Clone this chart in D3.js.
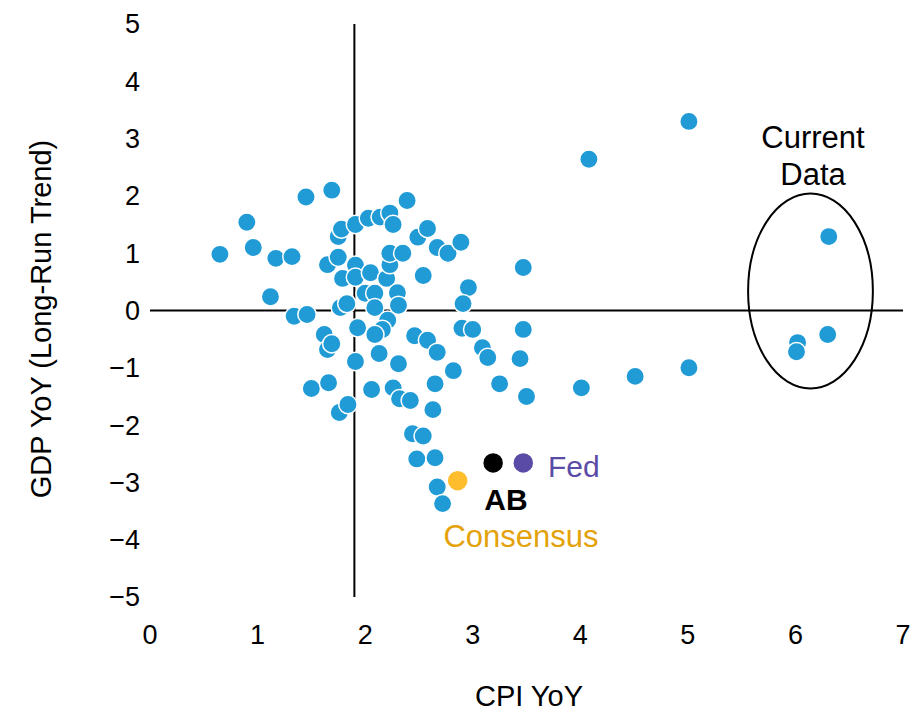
<!DOCTYPE html>
<html>
<head>
<meta charset="utf-8">
<script src="https://cdn.jsdelivr.net/npm/d3@7"></script>
<style>
  body { margin: 0; background: #fff; }
  svg text { font-family: "Liberation Sans", Arial, sans-serif; }
</style>
</head>
<body>
<svg id="chart" width="924" height="714"></svg>
<script>
// ---- data ----
const xTicks = [0, 1, 2, 3, 4, 5, 6, 7];
const yTicks = [5, 4, 3, 2, 1, 0, -1, -2, -3, -4, -5];
const xLabel = "CPI YoY";
const yLabel = "GDP YoY (Long-Run Trend)";

// historical observations: CPI YoY
const cpi = [0.65, 0.90, 0.96, 1.17, 1.32, 1.45, 1.69, 1.12, 1.34, 1.46,
  1.62, 1.65, 1.69, 1.50, 1.66, 1.76, 1.84, 1.65, 1.75, 1.78,
  1.75, 1.79, 1.77, 1.83, 1.91, 2.03, 2.14, 2.23, 2.26, 2.39,
  1.91, 1.91, 2.05, 2.20, 2.23, 2.23, 2.35, 2.54, 2.00, 2.09,
  2.30, 2.09, 2.31, 2.21, 2.16, 1.93, 2.09, 1.91, 2.13, 2.31,
  2.46, 2.58, 2.67, 2.82, 2.65, 2.49, 2.58, 2.67, 2.77, 2.89,
  2.96, 2.91, 2.90, 3.00, 3.47, 3.47, 3.09, 3.14, 3.44, 3.25,
  3.50, 2.06, 2.26, 2.32, 2.42, 2.63, 2.44, 2.54, 2.48, 2.65,
  2.67, 2.72, 4.01, 4.51, 5.01, 4.08, 5.01];
// historical observations: GDP YoY vs long-run trend
const gdp = [0.98, 1.54, 1.10, 0.91, 0.94, 1.98, 2.10, 0.24, -0.10, -0.07,
  -0.42, -0.68, -0.58, -1.36, -1.26, -1.78, -1.64, 0.80, 1.29, 1.42,
  0.93, 0.56, 0.05, 0.12, 1.50, 1.61, 1.63, 1.70, 1.50, 1.92,
  0.79, 0.58, 0.66, 0.56, 0.80, 1.00, 1.00, 0.61, 0.30, 0.30,
  0.31, 0.05, 0.09, -0.17, -0.33, -0.30, -0.42, -0.89, -0.75, -0.93,
  -0.44, -0.52, -0.73, -1.05, -1.28, 1.28, 1.43, 1.10, 1.00, 1.19,
  0.40, 0.12, -0.31, -0.33, 0.75, -0.33, -0.65, -0.82, -0.84, -1.28,
  -1.50, -1.38, -1.35, -1.54, -1.57, -1.73, -2.15, -2.19, -2.59, -2.57,
  -3.08, -3.37, -1.35, -1.15, -1.00, 2.64, 3.30];

// current data
const curCpi = [6.31, 6.30, 6.02, 6.01];
const curGdp = [1.29, -0.42, -0.56, -0.72];

// forecasts
const fcNames = ["AB", "Fed", "Consensus"];
const fcCpi = [3.19, 3.47, 2.86];
const fcGdp = [-2.66, -2.66, -2.97];
const fcColors = ["#000000", "#5a4ca6", "#fdbd2c"];

const refCpi = 1.9; // vertical reference line
const ellipseCenter = [6.14, 0.34];
const ellipseRadii = [0.58, 1.70];

// ---- layout ----
const svg = d3.select("#chart");
const x = d3.scaleLinear().domain([0, 7]).range([150, 903]);
const y = d3.scaleLinear().domain([-5, 5]).range([597, 24]);
const blue = "#219bd6";

// reference lines
svg.append("line")
  .attr("x1", x(0)).attr("x2", x(7)).attr("y1", y(0)).attr("y2", y(0))
  .attr("stroke", "#000").attr("stroke-width", 2);
svg.append("line")
  .attr("x1", x(refCpi)).attr("x2", x(refCpi)).attr("y1", y(5)).attr("y2", y(-5))
  .attr("stroke", "#000").attr("stroke-width", 2);

// tick labels
svg.append("g").selectAll("text").data(xTicks).join("text")
  .attr("x", d => x(d)).attr("y", 644)
  .attr("text-anchor", "middle").attr("font-size", 27).attr("fill", "#000")
  .text(d => d);
svg.append("g").selectAll("text").data(yTicks).join("text")
  .attr("x", 140).attr("y", d => y(d)).attr("dy", "0.35em")
  .attr("text-anchor", "end").attr("font-size", 27).attr("fill", "#000")
  .text(d => d < 0 ? "\u2212" + Math.abs(d) : d);

// axis titles
svg.append("text").attr("x", 529).attr("y", 706)
  .attr("text-anchor", "middle").attr("font-size", 29).text(xLabel);
svg.append("text").attr("transform", "translate(51,319) rotate(-90)")
  .attr("text-anchor", "middle").attr("font-size", 29).text(yLabel);

// historical points
const pts = cpi.map((c, i) => ({c, g: gdp[i]}));
svg.append("g").selectAll("circle").data(pts).join("circle")
  .attr("cx", d => x(d.c)).attr("cy", d => y(d.g)).attr("r", 9.2)
  .attr("fill", blue).attr("stroke", "#fff").attr("stroke-width", 1.5);

// current data points
const cur = curCpi.map((c, i) => ({c, g: curGdp[i]}));
svg.append("g").selectAll("circle").data(cur).join("circle")
  .attr("cx", d => x(d.c)).attr("cy", d => y(d.g)).attr("r", 9.2)
  .attr("fill", blue).attr("stroke", "#fff").attr("stroke-width", 1.5);

// ellipse around current data
svg.append("ellipse")
  .attr("cx", x(ellipseCenter[0])).attr("cy", y(ellipseCenter[1]))
  .attr("rx", x(ellipseRadii[0]) - x(0)).attr("ry", y(0) - y(ellipseRadii[1]))
  .attr("fill", "none").attr("stroke", "#000").attr("stroke-width", 2);
svg.append("text").attr("x", 813).attr("y", 148).attr("text-anchor", "middle")
  .attr("font-size", 31).text("Current");
svg.append("text").attr("x", 813).attr("y", 185).attr("text-anchor", "middle")
  .attr("font-size", 31).text("Data");

// forecast points
const fc = fcNames.map((n, i) => ({n, c: fcCpi[i], g: fcGdp[i], col: fcColors[i]}));
svg.append("g").selectAll("circle").data(fc).join("circle")
  .attr("cx", d => x(d.c)).attr("cy", d => y(d.g)).attr("r", 10.5)
  .attr("fill", d => d.col).attr("stroke", "#fff").attr("stroke-width", 1.5);

// forecast labels
svg.append("text").attr("x", 548).attr("y", 477)
  .attr("font-size", 30).attr("fill", "#5a4ca6").text("Fed");
svg.append("text").attr("x", 506).attr("y", 510).attr("text-anchor", "middle")
  .attr("font-size", 30).attr("font-weight", "bold").attr("fill", "#000").text("AB");
svg.append("text").attr("x", 521).attr("y", 547).attr("text-anchor", "middle")
  .attr("font-size", 31).attr("fill", "#e3a20a").text("Consensus");
</script>
</body>
</html>
